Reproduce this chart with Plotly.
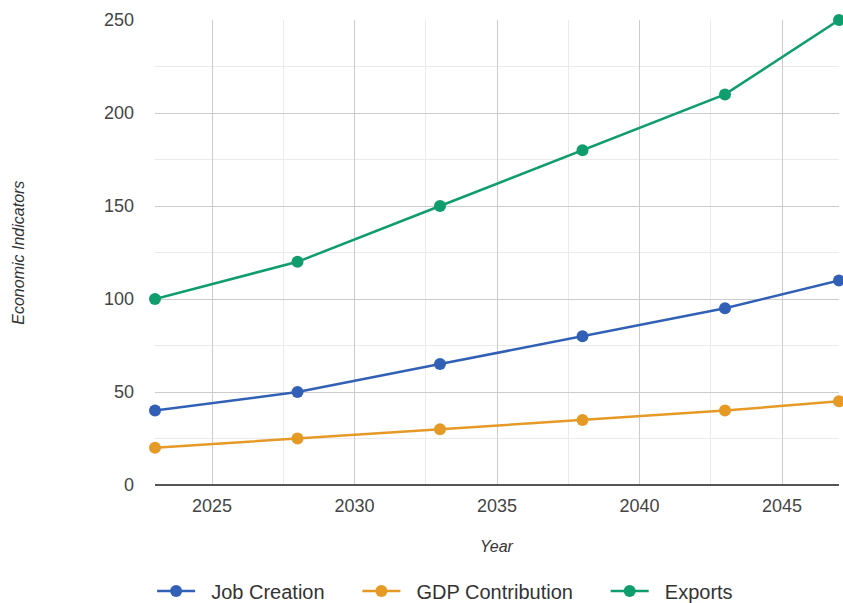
import plotly.graph_objects as go

years = [2023, 2028, 2033, 2038, 2043, 2047]
job_creation = [40, 50, 65, 80, 95, 110]
gdp_contribution = [20, 25, 30, 35, 40, 45]
exports = [100, 120, 150, 180, 210, 250]
series_names = ["Job Creation", "GDP Contribution", "Exports"]
series_colors = ["#3160b6", "#e59a26", "#109d6d"]

NB = "\u00a0"
fig = go.Figure()
for i, (name, vals, color) in enumerate(zip(series_names,
                                            [job_creation, gdp_contribution, exports],
                                            series_colors)):
    label = NB * 2 + name + (NB * 5 if i < 2 else "")
    fig.add_trace(go.Scatter(
        x=years, y=vals, name=label, mode="lines+markers",
        line=dict(color=color, width=2.5),
        marker=dict(color=color, size=12),
        cliponaxis=False,
    ))

font_family = "Liberation Sans, Arial, sans-serif"
fig.update_layout(
    width=843, height=603,
    margin=dict(l=155, r=4, t=20, b=118),
    paper_bgcolor="white", plot_bgcolor="white",
    font=dict(family=font_family, color="#444", size=18),
    showlegend=True,
    legend=dict(orientation="h", xref="container", x=0.528, xanchor="center",
                yref="container", y=0.02, yanchor="middle",
                font=dict(size=20, color="#333"), itemwidth=38,
                traceorder="normal"),
    xaxis=dict(range=[2023, 2047], dtick=5, tick0=2025, showgrid=True,
               gridcolor="#cccccc", gridwidth=1, zeroline=False,
               showline=False, ticks="", ticklabelstandoff=8,
               tickfont=dict(size=18, color="#444"),
               minor=dict(dtick=2.5, tick0=2025, showgrid=True, gridcolor="#ebebeb")),
    yaxis=dict(range=[0, 250], dtick=50, showgrid=True, gridcolor="#cccccc",
               gridwidth=1, zeroline=True, zerolinecolor="#555555", zerolinewidth=2,
               showline=False, ticks="", ticklabelstandoff=20,
               tickfont=dict(size=18, color="#444"),
               minor=dict(dtick=25, showgrid=True, gridcolor="#ebebeb")),
    annotations=[
        dict(text="<i>Year</i>", xref="paper", yref="paper", x=0.5, y=-0.133,
             showarrow=False, font=dict(size=16, color="#333"),
             xanchor="center", yanchor="middle"),
        dict(text="<i>Economic Indicators</i>", xref="paper", yref="paper",
             x=-0.2, y=0.5, textangle=-90, showarrow=False,
             font=dict(size=16, color="#333"), xanchor="center", yanchor="middle"),
    ],
)

fig.write_html("out.html")
